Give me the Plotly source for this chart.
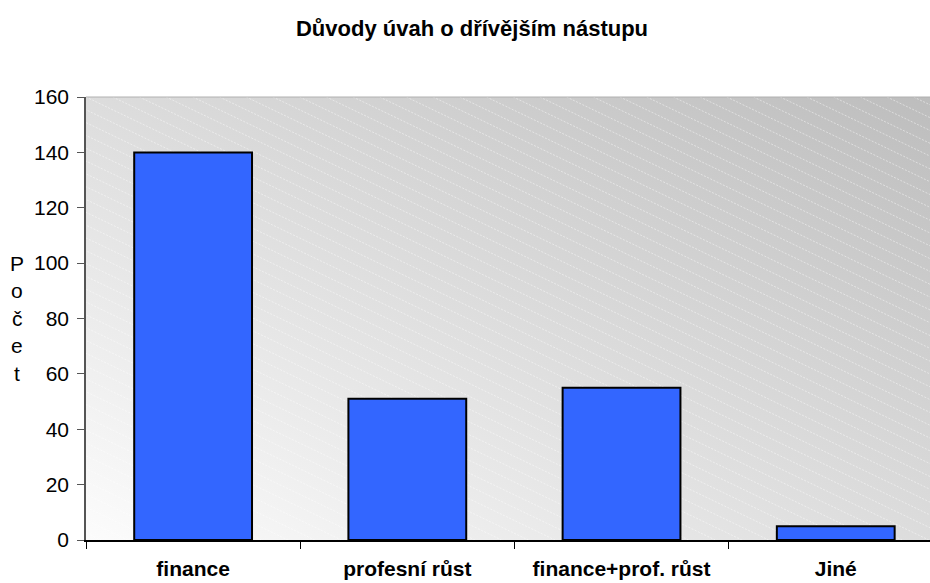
import base64
import plotly.graph_objects as go

# ---- data ----
title_text = "Důvody úvah o dřívějším nástupu"
categories = ["finance", "profesní růst", "finance+prof. růst", "Jiné"]
counts = [140, 51, 55, 5]
y_title = "Počet"
y_ticks = [0, 20, 40, 60, 80, 100, 120, 140, 160]

W, H = 930, 583
L, R, T, B = 86, 0, 97, 43
PW, PH = W - L - R, H - T - B

# ---- background gradient with diagonal dashed stripes (style only) ----
lines = []
step = 26.7
slope = 0.48
k = -40
while k * step < PW + 20:
    x0 = k * step
    x1 = x0 + PH / slope
    lines.append(f'<line x1="{x0:.1f}" y1="0" x2="{x1:.1f}" y2="{PH}" />')
    k += 1
svg = f'''<svg xmlns="http://www.w3.org/2000/svg" width="{PW}" height="{PH}" viewBox="0 0 {PW} {PH}" preserveAspectRatio="none">
<defs><linearGradient id="g" x1="0" y1="1" x2="1" y2="0">
<stop offset="0" stop-color="#fcfcfc"/><stop offset="1" stop-color="#bdbdbd"/>
</linearGradient></defs>
<rect x="0" y="0" width="{PW}" height="{PH}" fill="url(#g)"/>
<g stroke="#ffffff" stroke-opacity="0.45" stroke-width="1" stroke-dasharray="2 1.5">{''.join(lines)}</g>
</svg>'''
src = "data:image/svg+xml;base64," + base64.b64encode(svg.encode("utf-8")).decode("ascii")

FONT = "Liberation Sans, Arial, sans-serif"

fig = go.Figure()
fig.add_trace(go.Bar(
    x=categories, y=counts,
    marker=dict(color="#3366FF", line=dict(color="#000000", width=2)),
    width=0.55,
))

annotations = []
for i, ch in enumerate(y_title):
    annotations.append(dict(
        text=ch, xref="paper", yref="paper", showarrow=False,
        x=(17 - L) / PW, y=(H - B - (263 + i * 27.5)) / PH,
        xanchor="center", yanchor="middle",
        font=dict(family=FONT, size=21, color="#000000"),
    ))

fig.update_layout(
    width=W, height=H,
    margin=dict(l=L, r=R, t=T, b=B),
    paper_bgcolor="#ffffff",
    plot_bgcolor="rgba(0,0,0,0)",
    showlegend=False,
    title=dict(text="<b>" + title_text + "</b>", x=472 / W, xref="container",
               xanchor="center", y=1 - 28 / H, yanchor="middle",
               font=dict(family=FONT, size=22, color="#000000")),
    font=dict(family=FONT, size=21, color="#000000"),
    xaxis=dict(type="category", range=[-0.5, 3.44], showgrid=False,
               showline=True, linecolor="#000000", linewidth=1.5,
               ticks="outside", tickson="boundaries", ticklen=7, tickcolor="#000000",
               tickfont=dict(family=FONT, size=21, color="#000000", weight="bold"),
               ticklabelstandoff=9),
    yaxis=dict(range=[0, 160], tickvals=y_ticks, showgrid=False, zeroline=False,
               showline=True, linecolor="#555555", linewidth=1.5,
               ticks="outside", ticklen=7, tickcolor="#555555",
               tickfont=dict(family=FONT, size=21, color="#000000"),
               ticklabelstandoff=4),
    images=[dict(source=src, xref="paper", yref="paper", x=0, y=1, sizex=1, sizey=1,
                 sizing="stretch", xanchor="left", yanchor="top", layer="below")],
    shapes=[dict(type="line", xref="paper", yref="paper", x0=0, x1=1, y0=1, y1=1,
                 line=dict(color="#b0b0b0", width=1))],
    annotations=annotations,
    bargap=0.45,
)

fig.write_html(
    "out.html",
    config={"displayModeBar": False},
    post_script="document.body.style.margin='0';document.body.style.overflow='hidden';",
)
